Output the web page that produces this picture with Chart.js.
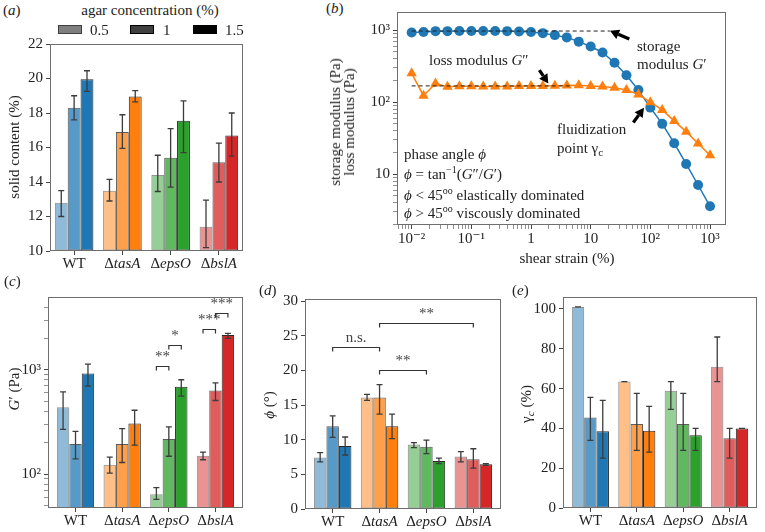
<!DOCTYPE html>
<html>
<head>
<meta charset="utf-8">
<title>biofilm rheology</title>
<script src="https://cdn.jsdelivr.net/npm/chart.js@4.4.1/dist/chart.umd.min.js"></script>
<style>
  body { margin: 0; background: #fff; }
  #fig { position: relative; width: 765px; height: 532px; overflow: hidden;
         font-family: 'Liberation Serif', 'DejaVu Serif', serif; font-size: 15px; color: #222; }
  #fig canvas { position: absolute; }
  .t { position: absolute; white-space: nowrap; line-height: 1; transform: translateY(-50%); }
  .c { transform: translate(-50%, -50%); }
  .r { transform: translate(-50%, -50%) rotate(-90deg); text-align: center; }
  .sw { position: absolute; width: 24px; height: 9px; box-sizing: border-box; border: 1px solid #000; }
  sup { font-size: 10px; vertical-align: 6px; line-height: 0; }
  sub { font-size: 11px; vertical-align: -3px; line-height: 0; }
</style>
</head>
<body>
<div id="fig">
  <canvas id="cA"></canvas>
  <canvas id="cB"></canvas>
  <canvas id="cC"></canvas>
  <canvas id="cD"></canvas>
  <canvas id="cE"></canvas>

  <!-- panel letters -->
  <div class="t" style="left:3px;top:10px">(<i>a</i>)</div>
  <div class="t" style="left:326px;top:8px">(<i>b</i>)</div>
  <div class="t" style="left:4px;top:281px">(<i>c</i>)</div>
  <div class="t" style="left:259px;top:290px">(<i>d</i>)</div>
  <div class="t" style="left:512px;top:290px">(<i>e</i>)</div>

  <!-- legend of (a) -->
  <div class="t c" style="left:150px;top:10px">agar concentration (%)</div>
  <div class="sw" style="left:58px;top:25px;background:rgba(0,0,0,0.5);border-color:rgba(0,0,0,0.5)"></div>
  <div class="t" style="left:90px;top:30px">0.5</div>
  <div class="sw" style="left:130px;top:25px;background:rgba(0,0,0,0.75)"></div>
  <div class="t" style="left:163px;top:30px">1</div>
  <div class="sw" style="left:193px;top:25px;background:#000"></div>
  <div class="t" style="left:225px;top:30px">1.5</div>

  <!-- axis titles -->
  <div class="t r" style="left:14px;top:147px">solid content (%)</div>
  <div class="t r" style="left:342px;top:122px;line-height:14px">storage modulus (Pa)<br>loss modulus (Pa)</div>
  <div class="t c" style="left:567px;top:258px">shear strain (%)</div>
  <div class="t r" style="left:14px;top:389px"><i>G</i>′ (Pa)</div>
  <div class="t r" style="left:269px;top:405px"><i>ϕ</i> (°)</div>
  <div class="t r" style="left:526px;top:404px">γ<sub><i>c</i></sub> (%)</div>

  <!-- annotations of (b) -->
  <div class="t" style="left:637px;top:46px">storage</div>
  <div class="t" style="left:637px;top:64px">modulus <i>G</i>′</div>
  <div class="t" style="left:429px;top:60px">loss modulus <i>G</i>″</div>
  <div class="t" style="left:557px;top:129px">fluidization</div>
  <div class="t" style="left:557px;top:148px">point γ<sub>c</sub></div>
  <div class="t" style="left:404px;top:154px">phase angle <i>ϕ</i></div>
  <div class="t" style="left:404px;top:174px"><i>ϕ</i> = tan<sup>−1</sup>(<i>G</i>″/<i>G</i>′)</div>
  <div class="t" style="left:404px;top:195px"><i>ϕ</i> &lt; 45<sup>oo</sup> elastically dominated</div>
  <div class="t" style="left:404px;top:213px"><i>ϕ</i> &gt; 45<sup>oo</sup> viscously dominated</div>
</div>

<script>
// Biofilm rheology figure, five panels
const SERIF = "'Liberation Serif', 'DejaVu Serif', serif";
Chart.defaults.font.family = SERIF;
Chart.defaults.font.size = 15;
Chart.defaults.color = '#222';

const CATS = ['WT', 'ΔtasA', 'ΔepsO', 'ΔbslA'];
const AGAR = ['0.5', '1', '1.5'];
const RGB = ['31,119,180', '255,127,14', '44,160,44', '214,39,40'];
const SHADE = [0.5, 0.75, 1];
const BLUE = '#1f77b4', ORANGE = '#ff7f0e';

// (a) solid content (%)
const SOLID_05 = [12.8, 13.5, 14.4, 11.4];
const SOLID_1 = [18.3, 16.9, 15.4, 15.15];
const SOLID_15 = [19.95, 18.95, 17.55, 16.7];
const SOLID_LO = [[12.0, 12.9, 13.45, 10.2], [17.6, 15.95, 13.7, 14.0], [19.25, 18.65, 15.7, 15.5]];
const SOLID_HI = [[13.5, 14.15, 15.55, 12.95], [19.0, 17.9, 17.1, 16.25], [20.45, 19.3, 18.7, 18.0]];
const A_TICKS = [10, 12, 14, 16, 18, 20, 22];

// (b) amplitude sweep
const STRAIN = [0.01, 0.0158, 0.0251, 0.0398, 0.0631, 0.1, 0.158, 0.251, 0.398, 0.631,
                1, 1.58, 2.51, 3.98, 6.31, 10, 15.8, 25.1, 39.8, 63.1,
                100, 158, 251, 398, 631, 1000];
const G_STORAGE = [925, 940, 965, 965, 968, 968, 968, 968, 965, 955,
                   940, 905, 850, 790, 690, 590, 488, 352, 236, 147,
                   84, 50, 27, 13.9, 7.1, 3.6];
const G_LOSS = [251, 123, 182, 163, 166, 166, 165, 165, 165, 167,
                168, 168, 169, 170, 172, 168, 165, 158, 147, 128,
                100, 78, 55, 39, 26.7, 18.4];
const DASH_STORAGE = { x: [0.01, 21], y: 968 };
const DASH_LOSS = { x: [0.01, 4.8], y: 168 };
const B_XMAJOR = [0.01, 0.1, 1, 10, 100, 1000];
const B_XLABELS = ['10⁻²', '10⁻¹', '1', '10', '10²', '10³'];
const B_YMAJOR = [10, 100, 1000];
const B_YLABELS = ['10', '10²', '10³'];
const B_ARROWS = [[44.4, 750, 21.1, 978], [1.38, 278, 1.95, 182], [51.8, 52.3, 78.3, 83.4]];

// (c) storage modulus G' (Pa)
const GP_05 = [437, 123, 64, 150];
const GP_1 = [194, 194, 217, 632];
const GP_15 = [922, 305, 687, 2150];
const GP_LO = [[268, 102, 57, 137], [140, 129, 148, 507], [696, 189, 558, 2000]];
const GP_HI = [[614, 145, 74, 162], [257, 272, 283, 750], [1134, 409, 802, 2234]];
const C_YMAJOR = [100, 1000];
const C_YLABELS = ['10²', '10³'];
const C_BRACKETS = [
  { a: [2, 0], b: [2, 1], y: 1084, label: '**' },
  { a: [2, 1], b: [2, 2], y: 1714, label: '*' },
  { a: [3, 0], b: [3, 1], y: 2443, label: '***' },
  { a: [3, 1], b: [3, 2], y: 3487, label: '***' },
];

// (d) phase angle (deg)
const PH_05 = [7.45, 16.1, 9.3, 7.6];
const PH_1 = [11.95, 16.1, 9.0, 7.2];
const PH_15 = [9.1, 11.95, 6.95, 6.45];
const PH_LO = [[6.8, 15.7, 8.85, 6.8], [10.35, 13.7, 8.0, 5.9], [7.8, 10.15, 6.55, 6.3]];
const PH_HI = [[8.15, 16.55, 9.6, 8.3], [13.45, 17.95, 9.95, 8.7], [10.4, 13.7, 7.35, 6.55]];
const D_TICKS = [0, 5, 10, 15, 20, 25, 30];
const D_BRACKETS = [
  { a: [0, 1], b: [1, 1], y: 23.4, label: 'n.s.' },
  { a: [1, 1], b: [2, 1], y: 20.1, label: '**' },
  { a: [1, 1], b: [3, 1], y: 26.9, label: '**' },
];

// (e) fluidization point (%)
const GC_05 = [101, 63.5, 58.9, 71.0];
const GC_1 = [45.5, 42.2, 42.2, 35.0];
const GC_15 = [38.5, 38.8, 36.5, 40.0];
const GC_LO = [[101, 63.5, 49.5, 63.5], [34.0, 28.9, 28.9, 25.1], [25.1, 28.1, 28.9, 40]];
const GC_HI = [[101, 63.5, 63.5, 85.9], [55.6, 57.6, 57.6, 40.0], [54.1, 51.1, 40.0, 40]];
const E_TICKS = [0, 20, 40, 60, 80, 100];

// frames [left, top, right, bottom] of each plot box on the page
const FA = [50, 44, 243, 251], FB = [397, 12, 726, 225], FC = [48, 297, 243, 508],
      FD = [305, 299, 501, 509], FE = [563, 297, 757, 508];

function place(id, f, yW, xH) {
  const cv = document.getElementById(id);
  const left = f[0] - yW, top = f[1] - 12;
  cv.width = f[2] - left + 10;
  cv.height = f[3] - top + xH;
  cv.style.left = left + 'px';
  cv.style.top = top + 'px';
  return cv;
}

function logTicks(min, max, majors) {
  const out = [];
  for (let e = -3; e <= 4; e++) {
    for (let m = 1; m <= 9; m++) {
      const v = m * Math.pow(10, e);
      if (v >= min && v <= max) out.push({ value: m === 1 ? majors.find(x => Math.abs(x / v - 1) < 1e-9) ?? v : v, major: m === 1 });
    }
  }
  return out;
}

function arrow(ctx, x1, y1, x2, y2) {
  const ang = Math.atan2(y2 - y1, x2 - x1), L = 9, W = 5;
  const bx = x2 - L * Math.cos(ang), by = y2 - L * Math.sin(ang);
  ctx.lineWidth = 3.2;
  ctx.beginPath(); ctx.moveTo(x1, y1); ctx.lineTo(bx, by); ctx.stroke();
  ctx.beginPath(); ctx.moveTo(x2, y2);
  ctx.lineTo(bx + W * Math.sin(ang), by - W * Math.cos(ang));
  ctx.lineTo(bx - W * Math.sin(ang), by + W * Math.cos(ang));
  ctx.closePath(); ctx.fill();
}

// frame, error bars, brackets, category labels, arrows
function decor(o) {
  return {
    id: 'decor',
    afterDatasetsDraw(chart) {
      const ctx = chart.ctx, xs = chart.scales.x, ys = chart.scales.y;
      ctx.save();
      ctx.strokeStyle = '#3c3c3c';
      ctx.lineWidth = 1.3;
      chart.data.datasets.forEach((ds, k) => {
        if (!ds.errLo) return;
        chart.getDatasetMeta(k).data.forEach((bar, i) => {
          const y1 = ys.getPixelForValue(ds.errLo[i]), y2 = ys.getPixelForValue(ds.errHi[i]);
          ctx.beginPath();
          ctx.moveTo(bar.x, y1); ctx.lineTo(bar.x, y2);
          ctx.moveTo(bar.x - 3, y1); ctx.lineTo(bar.x + 3, y1);
          ctx.moveTo(bar.x - 3, y2); ctx.lineTo(bar.x + 3, y2);
          ctx.stroke();
        });
      });
      (o.brackets || []).forEach(b => {
        const xa = chart.getDatasetMeta(b.a[1]).data[b.a[0]].x;
        const xb = chart.getDatasetMeta(b.b[1]).data[b.b[0]].x;
        const y = Math.round(ys.getPixelForValue(b.y)) + 0.5;
        ctx.strokeStyle = '#333'; ctx.lineWidth = 1.2;
        ctx.beginPath();
        ctx.moveTo(xa, y + 4); ctx.lineTo(xa, y); ctx.lineTo(xb, y); ctx.lineTo(xb, y + 4);
        ctx.stroke();
        ctx.fillStyle = '#444';
        ctx.font = '15px ' + SERIF;
        ctx.textAlign = 'center'; ctx.textBaseline = 'bottom';
        ctx.fillText(b.label, (xa + xb) / 2, y - 2);
      });
      ctx.fillStyle = '#000'; ctx.strokeStyle = '#000';
      (o.arrows || []).forEach(a => {
        arrow(ctx, xs.getPixelForValue(a[0]), ys.getPixelForValue(a[1]),
              xs.getPixelForValue(a[2]), ys.getPixelForValue(a[3]));
      });
      ctx.restore();
    },
    afterDraw(chart) {
      const ctx = chart.ctx, a = chart.chartArea;
      ctx.save();
      ctx.strokeStyle = '#6e6e6e'; ctx.lineWidth = 1;
      ctx.strokeRect(Math.round(a.left) + 0.5, Math.round(a.top) + 0.5,
                     Math.round(a.right - a.left) - 1, Math.round(a.bottom - a.top) - 1);
      if (o.cats) {
        ctx.fillStyle = '#222'; ctx.textBaseline = 'middle';
        o.cats.forEach((c, i) => {
          const x = chart.scales.x.getPixelForValue(i), y = a.bottom + 13;
          const parts = c[0] === 'Δ' ? [['Δ', ''], [c.slice(1), 'italic ']] : [[c, '']];
          let w = 0;
          parts.forEach(p => { ctx.font = p[1] + '15px ' + SERIF; w += ctx.measureText(p[0]).width; });
          let cx = x - w / 2;
          ctx.textAlign = 'left';
          parts.forEach(p => {
            ctx.font = p[1] + '15px ' + SERIF;
            ctx.fillText(p[0], cx, y);
            cx += ctx.measureText(p[0]).width;
          });
        });
      }
      ctx.restore();
    },
  };
}

function barSets(vals, los, his, base) {
  return vals.map((v, k) => ({
    label: AGAR[k],
    data: v.map((y, i) => ({ x: i, y })),
    backgroundColor: RGB.map(c => `rgba(${c},${SHADE[k]})`),
    borderColor: `rgba(0,0,0,${SHADE[k] * 0.85})`,
    borderWidth: 1,
    borderSkipped: false,
    base: base,
    errLo: los[k],
    errHi: his[k],
  }));
}

const tickGrid = { drawOnChartArea: false, drawTicks: true, tickLength: 4, color: '#444', offset: false };

function barChart(id, f, yW, xH, xr, yScale, sets, brackets) {
  const cv = place(id, f, yW, xH);
  return new Chart(cv, {
    type: 'bar',
    data: { datasets: sets },
    options: {
      responsive: false, animation: false, devicePixelRatio: 1,
      layout: { padding: { top: 12, right: 10, left: 0, bottom: 0 } },
      plugins: { legend: { display: false }, tooltip: { enabled: false } },
      datasets: { bar: { categoryPercentage: 0.8, barPercentage: 1, clip: 0 } },
      scales: {
        x: {
          type: 'linear', min: xr[0], max: xr[1], offset: false,
          afterBuildTicks: s => { s.ticks = CATS.map((c, i) => ({ value: i })); },
          afterFit: s => { s.height = xH; },
          ticks: { display: false },
          grid: tickGrid,
          border: { display: false },
        },
        y: Object.assign({
          afterFit: s => { s.width = yW; },
          grid: tickGrid,
          border: { display: false },
        }, yScale),
      },
    },
    plugins: [decor({ cats: CATS, brackets })],
  });
}

function linY(min, max, ticks) {
  return {
    type: 'linear', min, max,
    afterBuildTicks: s => { s.ticks = ticks.map(v => ({ value: v })); },
    ticks: { padding: 3, callback: v => String(v), autoSkip: false },
  };
}

function logY(min, max, majors, labels) {
  return {
    type: 'logarithmic', min, max,
    afterBuildTicks: s => { s.ticks = logTicks(min, max, majors); },
    ticks: { padding: 3, autoSkip: false, callback: v => { const i = majors.indexOf(v); return i >= 0 ? labels[i] : ''; } },
    grid: Object.assign({}, tickGrid, { tickWidth: c => (c.tick && c.tick.major ? 1 : 0.6) }),
  };
}

// (a)
barChart('cA', FA, 50, 20, [-0.5, 3.5], linY(10, 22, A_TICKS),
  barSets([SOLID_05, SOLID_1, SOLID_15], SOLID_LO, SOLID_HI, 10));

// (c)
barChart('cC', FC, 48, 22, [-0.59, 3.59], logY(47.2, 4990, C_YMAJOR, C_YLABELS),
  barSets([GP_05, GP_1, GP_15], GP_LO, GP_HI), C_BRACKETS);

// (d)
barChart('cD', FD, 43, 21, [-0.59, 3.59], linY(0, 30.33, D_TICKS),
  barSets([PH_05, PH_1, PH_15], PH_LO, PH_HI, 0), D_BRACKETS);

// (e)
barChart('cE', FE, 48, 22, [-0.59, 3.59], linY(0, 106, E_TICKS),
  barSets([GC_05, GC_1, GC_15], GC_LO, GC_HI, 0));

// (b)
(function () {
  const cv = place('cB', FB, 42, 25);
  const dash = d => ({
    data: d.x.map(x => ({ x, y: d.y })),
    borderColor: '#222', borderWidth: 1, borderDash: [4, 3], pointRadius: 0, fill: false,
  });
  new Chart(cv, {
    type: 'line',
    data: {
      datasets: [
        dash(DASH_STORAGE),
        dash(DASH_LOSS),
        {
          data: STRAIN.map((x, i) => ({ x, y: G_LOSS[i] })),
          borderColor: ORANGE, backgroundColor: ORANGE, borderWidth: 1.5,
          pointStyle: 'triangle', pointRadius: 6, pointBorderWidth: 0, pointBackgroundColor: ORANGE,
        },
        {
          data: STRAIN.map((x, i) => ({ x, y: G_STORAGE[i] })),
          borderColor: BLUE, backgroundColor: BLUE, borderWidth: 1.5,
          pointStyle: 'circle', pointRadius: 5, pointBorderWidth: 0, pointBackgroundColor: BLUE,
        },
      ],
    },
    options: {
      responsive: false, animation: false, devicePixelRatio: 1,
      layout: { padding: { top: 12, right: 10, left: 0, bottom: 0 } },
      plugins: { legend: { display: false }, tooltip: { enabled: false } },
      scales: {
        x: {
          type: 'logarithmic', min: 0.00568, max: 1853,
          afterBuildTicks: s => { s.ticks = logTicks(0.00568, 1853, B_XMAJOR); },
          afterFit: s => { s.height = 25; },
          ticks: { padding: 1, autoSkip: false, maxRotation: 0, minRotation: 0,
                   callback: v => { const i = B_XMAJOR.indexOf(v); return i >= 0 ? B_XLABELS[i] : ''; } },
          grid: Object.assign({}, tickGrid, { tickWidth: c => (c.tick && c.tick.major ? 1 : 0.6) }),
          border: { display: false },
        },
        y: Object.assign(logY(1.98, 1778, B_YMAJOR, B_YLABELS), {
          afterFit: s => { s.width = 42; },
          border: { display: false },
        }),
      },
    },
    plugins: [decor({ arrows: B_ARROWS })],
  });
})();
</script>
</body>
</html>
